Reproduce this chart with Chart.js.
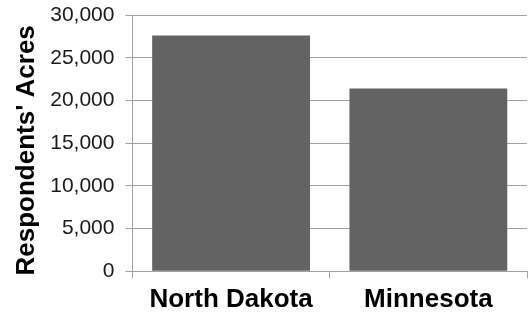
<!DOCTYPE html>
<html>
<head>
<meta charset="utf-8">
<script src="https://cdn.jsdelivr.net/npm/chart.js@4"></script>
<style>
  html, body { margin: 0; padding: 0; background: #fff; }
  #wrap { width: 528px; height: 317px; }
</style>
</head>
<body>
<div id="wrap"><canvas id="acresChart" width="528" height="317"></canvas></div>
<script>
const states = ['North Dakota', 'Minnesota'];
const acres = [27600, 21400];
const yTitle = "Respondents' Acres";

const ctx = document.getElementById('acresChart').getContext('2d');
new Chart(ctx, {
  type: 'bar',
  data: {
    labels: states,
    datasets: [{
      label: yTitle,
      data: acres,
      backgroundColor: '#636363',
      borderWidth: 0,
      barPercentage: 0.8,
      categoryPercentage: 1.0
    }]
  },
  options: {
    responsive: false,
    animation: false,
    // top comes out as max(padding, half tick label + tick padding)
    layout: { padding: { top: 15, right: 1, left: 11, bottom: -4 } },
    plugins: {
      legend: { display: false },
      tooltip: { enabled: false }
    },
    scales: {
      x: {
        grid: {
          display: true,
          drawOnChartArea: false,
          drawTicks: true,
          tickLength: 7,
          color: '#a0a0a0',
          lineWidth: 1
        },
        border: { color: '#a0a0a0', width: 1 },
        ticks: {
          color: '#000',
          font: { family: 'Liberation Sans, Arial, sans-serif', size: 26, weight: 'bold', lineHeight: 0.72 },
          padding: 12
        }
      },
      y: {
        min: 0,
        max: 30000,
        ticks: {
          stepSize: 5000,
          color: '#1a1a1a',
          // small lineHeight so the label height does not push the plot down
          font: { family: 'Liberation Sans, Arial, sans-serif', size: 21, lineHeight: 0.3 },
          padding: 11,
          callback: v => v.toLocaleString('en-US')
        },
        grid: {
          color: '#a0a0a0',
          lineWidth: 1,
          tickLength: 7
        },
        border: { color: '#a0a0a0', width: 1 },
        title: {
          display: true,
          // trailing spaces nudge the rotated title a bit lower, like the original
          text: yTitle + '  ',
          color: '#000',
          font: { family: 'Liberation Sans, Arial, sans-serif', size: 26, weight: 'bold' },
          padding: { top: 0, bottom: -3 }
        }
      }
    }
  }
});
</script>
</body>
</html>
